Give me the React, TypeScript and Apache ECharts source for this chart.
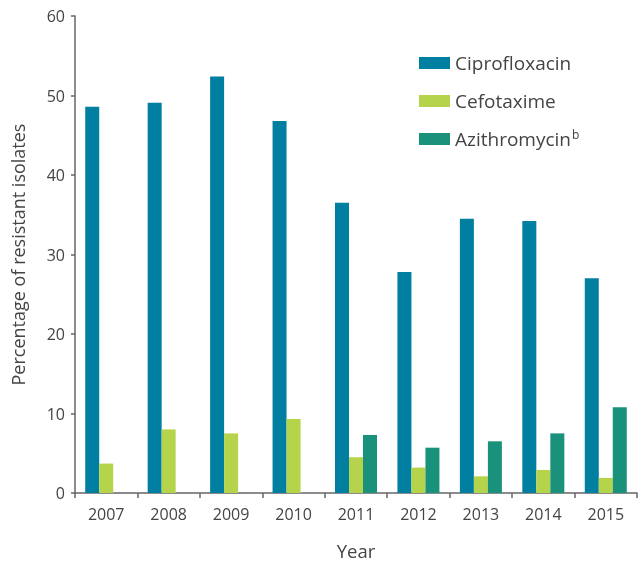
import React, { useEffect, useRef } from "react";
import * as echarts from "echarts";

const years = ["2007", "2008", "2009", "2010", "2011", "2012", "2013", "2014", "2015"];
const ciprofloxacin = [48.6, 49.1, 52.4, 46.8, 36.5, 27.8, 34.5, 34.2, 27.0];
const cefotaxime = [3.7, 8.0, 7.5, 9.3, 4.5, 3.2, 2.1, 2.9, 1.9];
const azithromycin = [null, null, null, null, 7.3, 5.7, 6.5, 7.5, 10.8];
const yTicks = [0, 10, 20, 30, 40, 50, 60];

const FONT = "'Open Sans', 'Noto Sans', sans-serif";
const TEXT = "#444444";

export default function App() {
  const ref = useRef<HTMLDivElement>(null);
  useEffect(() => {
    if (!ref.current) return;
    const chart = echarts.init(ref.current, null, { renderer: "svg" });
    chart.setOption({
      animation: false,
      textStyle: { fontFamily: FONT },
      grid: { left: 75, right: 2, top: 16, bottom: 68, containLabel: false },
      legend: {
        orient: "vertical",
        left: 414,
        top: 47,
        itemWidth: 31,
        itemHeight: 12,
        itemGap: 16,
        icon: "rect",
        data: ["Ciprofloxacin", "Cefotaxime", "Azithromycin"],
        formatter: (name: string) => (name === "Azithromycin" ? "Azithromycin{sup|b}" : name),
        textStyle: {
          color: TEXT,
          fontSize: 19,
          fontFamily: FONT,
          lineHeight: 22,
          rich: {
            sup: { fontSize: 12, color: TEXT, verticalAlign: "top", lineHeight: 22, padding: [0, 0, 8, 1] },
          },
        },
      },
      xAxis: {
        type: "category",
        data: years,
        name: "Year",
        nameLocation: "middle",
        nameGap: 48,
        nameTextStyle: { color: TEXT, fontSize: 18.5, fontFamily: FONT },
        axisLine: { show: true, lineStyle: { color: "#666666", width: 1.5 } },
        axisTick: { show: true, alignWithLabel: false, length: 5, lineStyle: { color: "#666666", width: 1.5 } },
        axisLabel: { color: TEXT, fontSize: 16, margin: 13, fontFamily: FONT },
      },
      yAxis: {
        type: "value",
        min: 0,
        max: 60,
        interval: 10,
        name: "Percentage of resistant isolates",
        nameLocation: "middle",
        nameGap: 48,
        nameTextStyle: { color: TEXT, fontSize: 18, fontFamily: FONT },
        axisLine: { show: true, lineStyle: { color: "#666666", width: 1.5 } },
        axisTick: { show: true, length: 4, lineStyle: { color: "#666666", width: 1.5 } },
        axisLabel: {
          color: TEXT,
          fontSize: 16,
          margin: 10,
          fontFamily: FONT,
          formatter: (v: number) => (yTicks.includes(v) ? String(v) : ""),
        },
        splitLine: { show: false },
      },
      series: [
        {
          name: "Ciprofloxacin",
          type: "bar",
          data: ciprofloxacin,
          barWidth: 14,
          barGap: "0%",
          itemStyle: { color: "#007fa0" },
        },
        {
          name: "Cefotaxime",
          type: "bar",
          data: cefotaxime,
          barWidth: 14,
          barGap: "0%",
          itemStyle: { color: "#b6d44b" },
        },
        {
          name: "Azithromycin",
          type: "bar",
          data: azithromycin,
          barWidth: 14,
          barGap: "0%",
          itemStyle: { color: "#1a917a" },
        },
      ],
    });
    return () => chart.dispose();
  }, []);
  return <div ref={ref} style={{ position: "fixed", left: 0, top: 0, width: 639, height: 565 }} />;
}
